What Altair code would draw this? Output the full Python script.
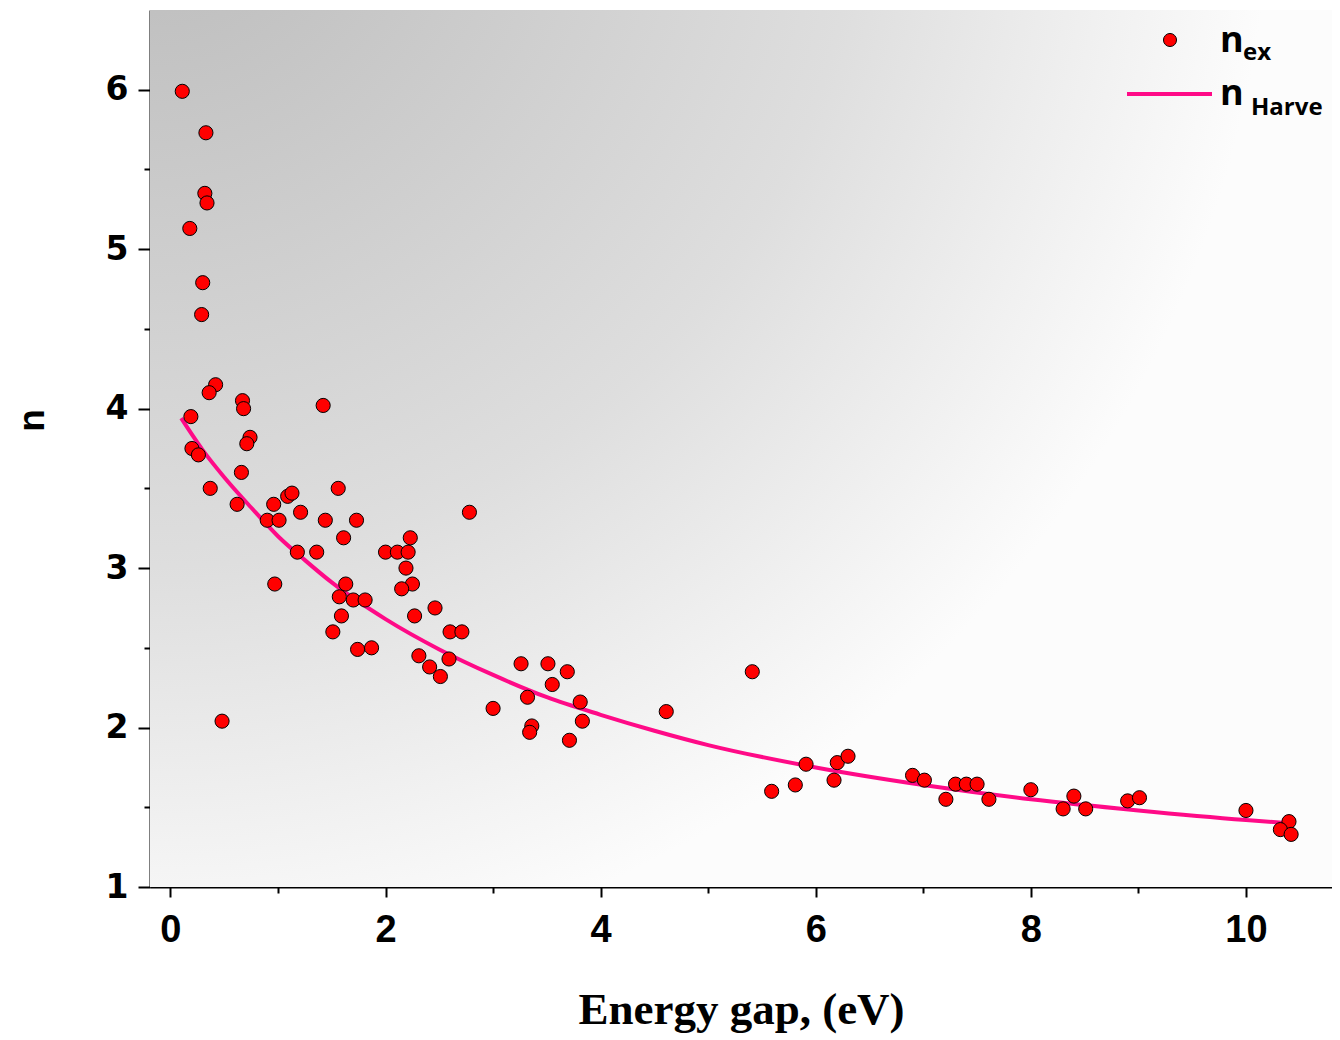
import altair as alt
import pandas as pd

# Experimental refractive index vs energy gap
E_ex = [0.11, 0.33, 0.32, 0.34, 0.18, 0.30, 0.29, 0.42, 0.36, 0.67, 0.68, 1.42, 0.19, 0.74, 0.71,
        0.20, 0.26, 0.66, 0.37, 1.09, 1.13, 1.56, 0.62, 0.96, 1.21, 0.90, 1.01, 1.44, 1.73, 1.61,
        2.78, 2.23, 2.00, 2.11, 2.21, 1.18, 1.36, 2.19, 0.97, 1.63, 2.25, 2.15, 1.57, 1.70, 1.81,
        2.46, 1.59, 2.27, 1.51, 2.60, 2.71, 1.74, 1.87, 2.31, 2.59, 2.41, 2.51, 0.48, 3.26, 3.51,
        3.69, 3.55, 3.32, 3.81, 3.00, 4.61, 3.83, 3.36, 3.34, 3.71, 5.41, 5.91, 6.20, 6.30, 6.17,
        5.81, 5.59, 6.90, 7.01, 7.21, 7.30, 7.40, 7.50, 7.61, 8.00, 8.30, 8.40, 8.51, 8.90, 9.01,
        10.00, 10.40, 10.32, 10.42]
n_ex = [5.99, 5.73, 5.35, 5.29, 5.13, 4.79, 4.59, 4.15, 4.10, 4.05, 4.00, 4.02, 3.95, 3.82, 3.78,
        3.75, 3.71, 3.60, 3.50, 3.45, 3.47, 3.50, 3.40, 3.40, 3.35, 3.30, 3.30, 3.30, 3.30, 3.19,
        3.35, 3.19, 3.10, 3.10, 3.10, 3.10, 3.10, 3.00, 2.90, 2.90, 2.90, 2.87, 2.82, 2.80, 2.80,
        2.75, 2.70, 2.70, 2.60, 2.60, 2.60, 2.49, 2.50, 2.45, 2.43, 2.38, 2.32, 2.04, 2.40, 2.40,
        2.35, 2.27, 2.19, 2.16, 2.12, 2.10, 2.04, 2.01, 1.97, 1.92, 2.35, 1.77, 1.78, 1.82, 1.67,
        1.64, 1.60, 1.70, 1.67, 1.55, 1.645, 1.645, 1.645, 1.55, 1.61, 1.49, 1.57, 1.49, 1.54, 1.56,
        1.48, 1.41, 1.36, 1.33]

# Curve (n Harve)
E_fit = [0.1, 0.3, 0.5, 0.75, 1.0, 1.25, 1.5, 2.0, 2.5, 3.0, 3.5, 4.0, 4.5, 5.0, 6.0, 7.0, 8.0,
         9.0, 10.0, 10.4]
n_fit = [3.94, 3.74, 3.57, 3.38, 3.20, 3.05, 2.91, 2.68, 2.49, 2.33, 2.19, 2.08, 1.98, 1.89, 1.75,
         1.64, 1.55, 1.48, 1.42, 1.40]

x_ticks = list(range(0, 11))
y_ticks = [1, 1.5, 2, 2.5, 3, 3.5, 4, 4.5, 5, 5.5, 6]

W, H = 1182, 877

pts = pd.DataFrame({"E": E_ex, "n": n_ex})
fit = pd.DataFrame({"E": E_fit, "n": n_fit})
one = pd.DataFrame({"k": [0]})

xscale = alt.Scale(domain=[-0.19, 10.8], nice=False, zero=False)
yscale = alt.Scale(domain=[1, 6.5], nice=False, zero=False)

xaxis = alt.Axis(
    values=x_ticks,
    labelExpr="datum.value % 2 == 0 ? format(datum.value, 'd') : ''",
    tickSize={"condition": {"test": "datum.value % 2 == 0", "value": 10}, "value": 6},
    grid=False, domainWidth=2, domainColor="black", tickColor="black", tickWidth=2,
    labelFont="Liberation Sans", labelFontSize=38, labelFontWeight="bold",
    labelColor="black", labelPadding=14, labelFlush=False, labelOverlap=False,
    title="Energy gap, (eV)", titleFont="Liberation Serif", titleFontSize=45,
    titleFontWeight="bold", titleColor="black", titleY=136, titleBaseline="alphabetic",
)
yaxis = alt.Axis(
    values=y_ticks,
    labelExpr="datum.value % 1 == 0 ? format(datum.value, 'd') : ''",
    tickSize={"condition": {"test": "datum.value % 1 == 0", "value": 12}, "value": 6},
    grid=False, domainWidth=2, domainColor="black", tickColor="black", tickWidth=2,
    labelFont="DejaVu Sans", labelFontSize=33, labelFontWeight="bold",
    labelColor="black", labelPadding=10, labelFlush=False, labelOverlap=False,
    title="n", titleFont="Liberation Sans", titleFontSize=37, titleFontWeight="bold",
    titleColor="black", titleX=-118, titleY=410, titleBaseline="middle", titleAngle=-90,
)

bg = alt.Chart(one).mark_rect(
    color={"gradient": "radial", "x1": 0, "y1": 0, "r1": 0, "x2": 0, "y2": 0, "r2": 1,
           "stops": [{"offset": 0, "color": "#b9b9b9"},
                     {"offset": 0.6, "color": "#dedede"},
                     {"offset": 0.95, "color": "#fcfcfc"}]}
).encode(x=alt.value(0), x2=alt.value(W), y=alt.value(0), y2=alt.value(H))

line = alt.Chart(fit).mark_line(color="#ff0a87", strokeWidth=4, interpolate="monotone").encode(
    x=alt.X("E:Q", scale=xscale, axis=xaxis),
    y=alt.Y("n:Q", scale=yscale, axis=yaxis),
)

points = alt.Chart(pts).mark_circle(size=200, color="#ff0000", stroke="black", strokeWidth=1,
                                    opacity=1).encode(
    x=alt.X("E:Q", scale=xscale),
    y=alt.Y("n:Q", scale=yscale),
)

leg_pt = alt.Chart(one).mark_circle(size=170, color="#ff0000", stroke="black", strokeWidth=1,
                                    opacity=1).encode(x=alt.value(1020), y=alt.value(30))
leg_line = alt.Chart(one).mark_rule(color="#ff0a87", strokeWidth=4).encode(
    x=alt.value(977), x2=alt.value(1062), y=alt.value(84))

def txt(s, x, y, size):
    return alt.Chart(one).mark_text(text=s, font="Open Sans", fontSize=size, fontWeight="bold",
                                    align="left", baseline="alphabetic", color="black").encode(
        x=alt.value(x), y=alt.value(y))

legend = (txt("n", 1070, 42, 36) + txt("ex", 1093, 50, 24) +
          txt("n", 1070, 95, 36) + txt("Harve", 1101, 105, 24))

chart = alt.layer(bg, line, points, leg_pt, leg_line, legend).properties(
    width=W, height=H,
    autosize=alt.AutoSizeParams(type="none"),
    padding={"left": 142, "top": 2, "right": 0, "bottom": 151},
).configure_view(stroke="#333333", strokeWidth=1.5).configure(background="white")

chart.save("out.html", embed_options={"renderer": "svg", "actions": False})
